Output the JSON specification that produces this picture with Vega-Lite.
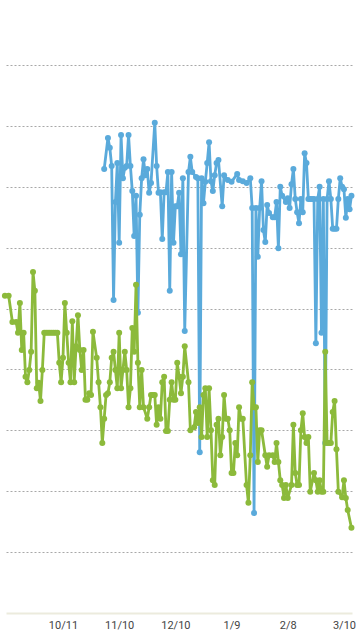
{
  "$schema": "https://vega.github.io/schema/vega-lite/v6.json",
  "autosize": {"type": "none"},
  "width": 346,
  "height": 609,
  "padding": {"left": 6, "right": 6, "top": 4, "bottom": 27},
  "background": "white",
  "config": {"view": {"stroke": null}},
  "datasets": {
    "blue": [
      {"date":"2014-11-02","value":7.29},{"date":"2014-11-04","value":7.80},{"date":"2014-11-05","value":7.64},{"date":"2014-11-06","value":7.34},
      {"date":"2014-11-07","value":5.14},{"date":"2014-11-08","value":6.75},{"date":"2014-11-09","value":7.39},{"date":"2014-11-10","value":6.08},
      {"date":"2014-11-11","value":7.85},{"date":"2014-11-12","value":7.14},{"date":"2014-11-13","value":7.31},{"date":"2014-11-14","value":7.34},
      {"date":"2014-11-15","value":7.85},{"date":"2014-11-16","value":7.34},{"date":"2014-11-17","value":6.93},{"date":"2014-11-18","value":6.19},
      {"date":"2014-11-19","value":6.85},{"date":"2014-11-20","value":4.93},{"date":"2014-11-21","value":6.54},{"date":"2014-11-22","value":7.14},
      {"date":"2014-11-23","value":7.45},{"date":"2014-11-24","value":7.19},{"date":"2014-11-25","value":7.29},{"date":"2014-11-26","value":6.90},
      {"date":"2014-11-27","value":7.06},{"date":"2014-11-29","value":8.05},{"date":"2014-11-30","value":7.34},{"date":"2014-12-01","value":6.90},
      {"date":"2014-12-02","value":6.91},{"date":"2014-12-03","value":6.14},{"date":"2014-12-04","value":6.91},{"date":"2014-12-05","value":6.91},
      {"date":"2014-12-06","value":7.24},{"date":"2014-12-07","value":5.29},{"date":"2014-12-08","value":7.24},{"date":"2014-12-09","value":6.08},
      {"date":"2014-12-10","value":6.68},{"date":"2014-12-11","value":6.68},{"date":"2014-12-12","value":6.90},{"date":"2014-12-13","value":5.89},
      {"date":"2014-12-14","value":7.14},{"date":"2014-12-15","value":4.63},{"date":"2014-12-17","value":7.24},{"date":"2014-12-18","value":7.49},
      {"date":"2014-12-19","value":7.24},{"date":"2014-12-21","value":7.16},{"date":"2014-12-22","value":7.14},{"date":"2014-12-23","value":2.64},
      {"date":"2014-12-24","value":7.14},{"date":"2014-12-25","value":6.73},{"date":"2014-12-26","value":7.08},{"date":"2014-12-27","value":7.39},
      {"date":"2014-12-28","value":7.73},{"date":"2014-12-29","value":7.09},{"date":"2014-12-30","value":6.93},{"date":"2014-12-31","value":7.19},
      {"date":"2015-01-01","value":7.39},{"date":"2015-01-02","value":7.44},{"date":"2015-01-04","value":6.68},{"date":"2015-01-05","value":7.19},
      {"date":"2015-01-07","value":7.11},{"date":"2015-01-09","value":7.08},{"date":"2015-01-12","value":7.21},{"date":"2015-01-13","value":7.11},
      {"date":"2015-01-15","value":7.09},{"date":"2015-01-17","value":7.06},{"date":"2015-01-19","value":7.14},{"date":"2015-01-20","value":6.65},
      {"date":"2015-01-21","value":1.64},{"date":"2015-01-22","value":6.65},{"date":"2015-01-23","value":5.85},{"date":"2015-01-24","value":6.65},
      {"date":"2015-01-25","value":7.09},{"date":"2015-01-26","value":6.29},{"date":"2015-01-27","value":6.09},{"date":"2015-01-28","value":6.70},
      {"date":"2015-01-29","value":6.57},{"date":"2015-01-31","value":6.50},{"date":"2015-02-01","value":6.50},{"date":"2015-02-02","value":6.75},
      {"date":"2015-02-03","value":5.99},{"date":"2015-02-04","value":7.00},{"date":"2015-02-05","value":6.85},{"date":"2015-02-07","value":6.75},
      {"date":"2015-02-08","value":6.81},{"date":"2015-02-09","value":6.65},{"date":"2015-02-10","value":7.04},{"date":"2015-02-11","value":7.29},
      {"date":"2015-02-12","value":6.80},{"date":"2015-02-13","value":6.58},{"date":"2015-02-14","value":6.40},{"date":"2015-02-15","value":6.80},
      {"date":"2015-02-16","value":6.58},{"date":"2015-02-17","value":7.55},{"date":"2015-02-18","value":7.39},{"date":"2015-02-19","value":6.80},
      {"date":"2015-02-20","value":6.80},{"date":"2015-02-21","value":6.80},{"date":"2015-02-22","value":6.80},{"date":"2015-02-23","value":4.43},
      {"date":"2015-02-24","value":6.80},{"date":"2015-02-25","value":7.00},{"date":"2015-02-26","value":4.60},{"date":"2015-02-27","value":6.80},
      {"date":"2015-02-28","value":2.79},{"date":"2015-03-01","value":6.80},{"date":"2015-03-02","value":7.09},{"date":"2015-03-03","value":6.80},
      {"date":"2015-03-04","value":6.31},{"date":"2015-03-05","value":6.31},{"date":"2015-03-06","value":6.31},{"date":"2015-03-07","value":6.80},
      {"date":"2015-03-08","value":7.14},{"date":"2015-03-09","value":7.00},{"date":"2015-03-10","value":6.96},{"date":"2015-03-11","value":6.49},
      {"date":"2015-03-12","value":6.80},{"date":"2015-03-13","value":6.63},{"date":"2015-03-14","value":6.85}
    ],
    "green": [
      {"date":"2014-09-10","value":5.21},{"date":"2014-09-12","value":5.21},{"date":"2014-09-14","value":4.78},{"date":"2014-09-16","value":4.78},
      {"date":"2014-09-17","value":4.60},{"date":"2014-09-18","value":5.09},{"date":"2014-09-19","value":4.32},{"date":"2014-09-20","value":4.60},
      {"date":"2014-09-21","value":3.88},{"date":"2014-09-22","value":3.79},{"date":"2014-09-23","value":3.99},{"date":"2014-09-24","value":4.29},
      {"date":"2014-09-25","value":5.60},{"date":"2014-09-26","value":5.29},{"date":"2014-09-27","value":3.69},{"date":"2014-09-28","value":3.78},
      {"date":"2014-09-29","value":3.48},{"date":"2014-09-30","value":3.99},{"date":"2014-10-01","value":4.60},{"date":"2014-10-02","value":4.60},
      {"date":"2014-10-03","value":4.60},{"date":"2014-10-04","value":4.60},{"date":"2014-10-05","value":4.60},{"date":"2014-10-06","value":4.60},
      {"date":"2014-10-07","value":4.60},{"date":"2014-10-08","value":4.60},{"date":"2014-10-09","value":4.11},{"date":"2014-10-10","value":3.79},
      {"date":"2014-10-11","value":4.19},{"date":"2014-10-12","value":5.09},{"date":"2014-10-13","value":4.60},{"date":"2014-10-14","value":4.11},
      {"date":"2014-10-15","value":3.79},{"date":"2014-10-16","value":4.79},{"date":"2014-10-17","value":3.79},{"date":"2014-10-18","value":4.38},
      {"date":"2014-10-19","value":4.89},{"date":"2014-10-20","value":4.32},{"date":"2014-10-21","value":3.99},{"date":"2014-10-22","value":4.32},
      {"date":"2014-10-23","value":3.50},{"date":"2014-10-24","value":3.50},{"date":"2014-10-25","value":3.61},{"date":"2014-10-26","value":3.58},
      {"date":"2014-10-27","value":4.62},{"date":"2014-10-29","value":4.19},{"date":"2014-10-30","value":3.79},{"date":"2014-10-31","value":3.38},
      {"date":"2014-11-01","value":2.79},{"date":"2014-11-02","value":3.19},{"date":"2014-11-03","value":3.58},{"date":"2014-11-04","value":3.61},
      {"date":"2014-11-05","value":3.79},{"date":"2014-11-06","value":4.19},{"date":"2014-11-07","value":4.29},{"date":"2014-11-08","value":3.99},
      {"date":"2014-11-09","value":3.69},{"date":"2014-11-10","value":4.60},{"date":"2014-11-11","value":3.69},{"date":"2014-11-12","value":3.99},
      {"date":"2014-11-13","value":4.29},{"date":"2014-11-14","value":3.99},{"date":"2014-11-15","value":3.38},{"date":"2014-11-16","value":3.69},
      {"date":"2014-11-17","value":4.68},{"date":"2014-11-18","value":4.29},{"date":"2014-11-19","value":5.39},{"date":"2014-11-20","value":4.11},
      {"date":"2014-11-21","value":3.38},{"date":"2014-11-22","value":3.99},{"date":"2014-11-23","value":3.38},{"date":"2014-11-25","value":3.19},
      {"date":"2014-11-26","value":3.38},{"date":"2014-11-27","value":3.58},{"date":"2014-11-28","value":3.58},{"date":"2014-11-29","value":3.58},
      {"date":"2014-11-30","value":3.09},{"date":"2014-12-01","value":3.38},{"date":"2014-12-02","value":3.19},{"date":"2014-12-03","value":3.79},
      {"date":"2014-12-04","value":3.88},{"date":"2014-12-05","value":2.99},{"date":"2014-12-06","value":2.99},{"date":"2014-12-07","value":3.50},
      {"date":"2014-12-08","value":3.79},{"date":"2014-12-09","value":3.50},{"date":"2014-12-10","value":3.50},{"date":"2014-12-11","value":4.11},
      {"date":"2014-12-12","value":3.88},{"date":"2014-12-13","value":3.61},{"date":"2014-12-14","value":3.88},{"date":"2014-12-15","value":4.38},
      {"date":"2014-12-17","value":3.79},{"date":"2014-12-18","value":3.00},{"date":"2014-12-20","value":3.05},{"date":"2014-12-21","value":3.30},
      {"date":"2014-12-22","value":3.12},{"date":"2014-12-23","value":3.38},{"date":"2014-12-24","value":2.89},{"date":"2014-12-25","value":3.58},
      {"date":"2014-12-26","value":3.69},{"date":"2014-12-27","value":2.89},{"date":"2014-12-28","value":3.69},{"date":"2014-12-29","value":3.00},
      {"date":"2014-12-30","value":2.18},{"date":"2014-12-31","value":2.10},{"date":"2015-01-01","value":3.09},{"date":"2015-01-02","value":3.19},
      {"date":"2015-01-03","value":2.59},{"date":"2015-01-04","value":2.89},{"date":"2015-01-05","value":3.58},{"date":"2015-01-06","value":3.19},
      {"date":"2015-01-07","value":3.19},{"date":"2015-01-08","value":3.00},{"date":"2015-01-09","value":2.30},{"date":"2015-01-10","value":2.30},
      {"date":"2015-01-11","value":2.79},{"date":"2015-01-12","value":2.59},{"date":"2015-01-13","value":3.38},{"date":"2015-01-14","value":3.19},
      {"date":"2015-01-15","value":3.19},{"date":"2015-01-17","value":2.10},{"date":"2015-01-18","value":1.81},{"date":"2015-01-19","value":2.59},
      {"date":"2015-01-20","value":3.79},{"date":"2015-01-21","value":3.38},{"date":"2015-01-22","value":3.38},{"date":"2015-01-23","value":2.48},
      {"date":"2015-01-24","value":3.00},{"date":"2015-01-25","value":3.00},{"date":"2015-01-27","value":2.59},{"date":"2015-01-28","value":2.40},
      {"date":"2015-01-29","value":2.59},{"date":"2015-01-31","value":2.59},{"date":"2015-02-01","value":2.48},{"date":"2015-02-02","value":2.79},
      {"date":"2015-02-03","value":2.48},{"date":"2015-02-04","value":2.18},{"date":"2015-02-05","value":2.10},{"date":"2015-02-06","value":1.89},
      {"date":"2015-02-07","value":2.10},{"date":"2015-02-08","value":1.89},{"date":"2015-02-10","value":2.10},{"date":"2015-02-11","value":3.09},
      {"date":"2015-02-12","value":2.30},{"date":"2015-02-13","value":2.10},{"date":"2015-02-14","value":2.10},{"date":"2015-02-15","value":3.00},
      {"date":"2015-02-16","value":3.28},{"date":"2015-02-17","value":2.89},{"date":"2015-02-18","value":2.79},{"date":"2015-02-19","value":2.89},
      {"date":"2015-02-20","value":1.99},{"date":"2015-02-22","value":2.30},{"date":"2015-02-23","value":2.18},{"date":"2015-02-24","value":1.99},
      {"date":"2015-02-25","value":2.18},{"date":"2015-02-26","value":1.99},{"date":"2015-02-27","value":1.99},{"date":"2015-02-28","value":4.29},
      {"date":"2015-03-01","value":2.79},{"date":"2015-03-02","value":2.79},{"date":"2015-03-03","value":2.79},{"date":"2015-03-04","value":3.30},
      {"date":"2015-03-05","value":3.48},{"date":"2015-03-06","value":2.69},{"date":"2015-03-07","value":1.99},{"date":"2015-03-09","value":1.90},
      {"date":"2015-03-10","value":2.18},{"date":"2015-03-11","value":1.89},{"date":"2015-03-12","value":1.69},{"date":"2015-03-14","value":1.40}
    ]
  },
  "encoding": {
    "x": {
      "field": "date",
      "type": "temporal",
      "scale": {
        "type": "utc",
        "domain": [
          {"year": 2014, "month": 9, "date": 10, "hours": 14, "utc": true},
          {"year": 2015, "month": 3, "date": 14, "hours": 7, "utc": true}
        ]
      },
      "axis": {
        "title": null,
        "grid": false,
        "ticks": false,
        "tickSize": 0,
        "labelPadding": 6,
        "labelExpr": "utcFormat(datum.value, '%-m/%-d')",
        "labelFont": "Roboto",
        "labelFontSize": 11,
        "labelColor": "#444444",
        "labelFlush": false,
        "labelOverlap": false,
        "domainColor": "#ecebdd",
        "domainWidth": 2,
        "values": [
          {"year": 2014, "month": 10, "date": 11, "utc": true},
          {"year": 2014, "month": 11, "date": 10, "utc": true},
          {"year": 2014, "month": 12, "date": 10, "utc": true},
          {"year": 2015, "month": 1, "date": 9, "utc": true},
          {"year": 2015, "month": 2, "date": 8, "utc": true},
          {"year": 2015, "month": 3, "date": 10, "utc": true}
        ]
      }
    },
    "y": {
      "field": "value",
      "type": "quantitative",
      "scale": {"domain": [0, 10], "nice": false},
      "axis": {
        "title": null,
        "labels": false,
        "ticks": false,
        "domain": false,
        "grid": true,
        "gridDash": [2, 2],
        "gridColor": "#a8a8a8",
        "gridWidth": 1,
        "values": [1, 2, 3, 4, 5, 6, 7, 8, 9]
      }
    }
  },
  "layer": [
    {
      "data": {"name": "blue"},
      "mark": {
        "type": "line",
        "color": "#5aaadb",
        "strokeWidth": 2.8,
        "strokeJoin": "round",
        "point": {"filled": true, "size": 36, "color": "#5aaadb"}
      }
    },
    {
      "data": {"name": "green"},
      "mark": {
        "type": "line",
        "color": "#8cba3b",
        "strokeWidth": 2.8,
        "strokeJoin": "round",
        "point": {"filled": true, "size": 36, "color": "#8cba3b"}
      }
    }
  ]
}
